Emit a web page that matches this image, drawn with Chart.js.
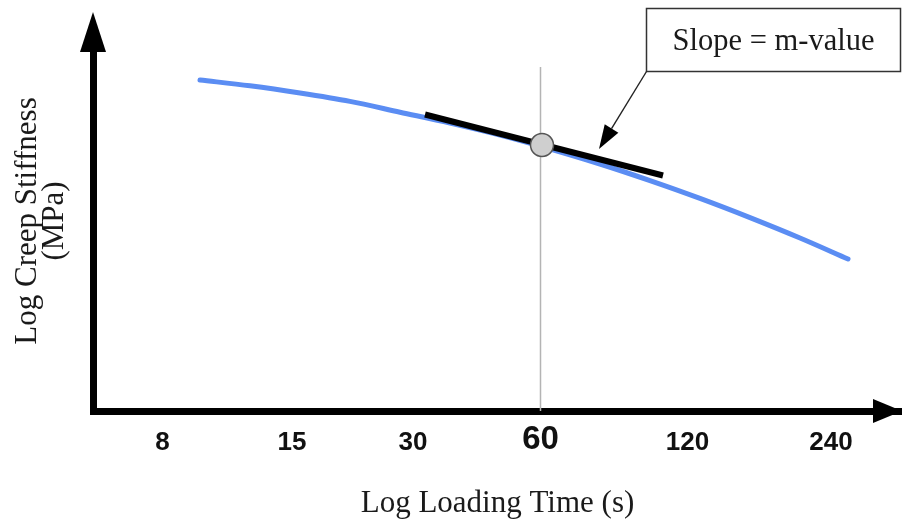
<!DOCTYPE html>
<html>
<head>
<meta charset="utf-8">
<script src="https://cdn.jsdelivr.net/npm/chart.js@4/dist/chart.umd.min.js"></script>
<style>
  html, body { margin: 0; padding: 0; background: #fff; }
  canvas { display: block; }
</style>
</head>
<body>
<canvas id="chart" width="902" height="524"></canvas>
<script>
// Loading-time axis: tick labels (s) and their places along the log-time axis
const timeLabels = ['8', '15', '30', '60', '120', '240'];
const timePositions = [0.695, 1.99, 3.20, 4.475, 5.945, 7.38];
const emphasisLabel = '60';

// Creep stiffness master curve (log-time position, log stiffness)
const curveX = [1.07, 1.57, 2.07, 2.57, 3.07, 3.57, 4.07, 4.47, 5.07, 5.57, 6.07, 6.57, 7.07, 7.55];
const curveY = [8.275, 8.13, 7.95, 7.74, 7.47, 7.20, 6.90, 6.625, 6.175, 5.76, 5.315, 4.835, 4.325, 3.80];

// Tangent to the curve at 60 s and the evaluation point
const tangentX = [3.32, 5.70];
const tangentY = [7.4125, 5.8875];
const pointX = [4.49];
const pointY = [6.65];

// Vertical guide at 60 s
const guideX = [4.475, 4.475];
const guideY = [0, 8.6];

const toXY = (xs, ys) => xs.map((x, i) => ({ x, y: ys[i] }));

const SERIF = "'Liberation Serif', 'Times New Roman', serif";
const SANS = "'Liberation Sans', Arial, sans-serif";

// Callout: box with the label, and an arrow pointing at the tangent line
const callout = {
  text: 'Slope = m-value',
  box: { left: 5.535, right: 8.075, top: 10.0625, bottom: 8.4875 },
  tip: { x: 5.06, y: 6.55 }
};

const axisArrows = {
  id: 'axisArrows',
  afterDraw(chart) {
    const { ctx, chartArea: a } = chart;
    ctx.save();
    ctx.fillStyle = '#000';
    // arrowhead on the vertical axis
    ctx.beginPath();
    ctx.moveTo(a.left, a.top - 19);
    ctx.lineTo(a.left - 13, a.top + 21);
    ctx.lineTo(a.left + 13, a.top + 21);
    ctx.closePath();
    ctx.fill();
    // arrowhead on the horizontal axis
    ctx.beginPath();
    ctx.moveTo(a.right, a.bottom);
    ctx.lineTo(a.right - 29, a.bottom - 12);
    ctx.lineTo(a.right - 29, a.bottom + 12);
    ctx.closePath();
    ctx.fill();
    ctx.restore();
  }
};

const calloutPlugin = {
  id: 'callout',
  afterDraw(chart) {
    const { ctx } = chart;
    const xs = chart.scales.x, ys = chart.scales.y;
    const l = xs.getPixelForValue(callout.box.left);
    const r = xs.getPixelForValue(callout.box.right);
    const t = ys.getPixelForValue(callout.box.top);
    const b = ys.getPixelForValue(callout.box.bottom);
    const tx = xs.getPixelForValue(callout.tip.x);
    const ty = ys.getPixelForValue(callout.tip.y);
    ctx.save();
    ctx.fillStyle = '#fff';
    ctx.fillRect(l, t, r - l, b - t);
    ctx.strokeStyle = '#333';
    ctx.lineWidth = 1.5;
    ctx.strokeRect(l, t, r - l, b - t);
    ctx.fillStyle = '#1a1a1a';
    ctx.font = '30.5px ' + SERIF;
    ctx.textAlign = 'center';
    ctx.textBaseline = 'alphabetic';
    ctx.fillText(callout.text, (l + r) / 2, t + 41.5);

    // arrow from the box corner to the tangent
    const sx = l, sy = b;
    const ang = Math.atan2(ty - sy, tx - sx);
    const headLen = 24, headHalf = 8;
    const bx = tx - headLen * Math.cos(ang), by = ty - headLen * Math.sin(ang);
    ctx.strokeStyle = '#222';
    ctx.lineWidth = 1.4;
    ctx.beginPath();
    ctx.moveTo(sx, sy);
    ctx.lineTo(bx, by);
    ctx.stroke();
    ctx.fillStyle = '#000';
    ctx.beginPath();
    ctx.moveTo(tx, ty);
    ctx.lineTo(bx + headHalf * Math.sin(ang), by - headHalf * Math.cos(ang));
    ctx.lineTo(bx - headHalf * Math.sin(ang), by + headHalf * Math.cos(ang));
    ctx.closePath();
    ctx.fill();
    ctx.restore();
  }
};

new Chart(document.getElementById('chart'), {
  type: 'line',
  data: {
    datasets: [
      {
        label: 'Evaluation point',
        data: toXY(pointX, pointY),
        showLine: false,
        pointRadius: 11.5,
        pointBackgroundColor: '#cfcfcf',
        pointBorderColor: '#555',
        pointBorderWidth: 1.5
      },
      {
        label: 'Tangent',
        data: toXY(tangentX, tangentY),
        borderColor: '#000',
        borderWidth: 6,
        borderCapStyle: 'butt',
        pointRadius: 0
      },
      {
        label: 'Creep stiffness',
        data: toXY(curveX, curveY),
        borderColor: '#5b8df3',
        borderWidth: 5,
        borderCapStyle: 'round',
        cubicInterpolationMode: 'monotone',
        pointRadius: 0
      },
      {
        label: '60 s',
        data: toXY(guideX, guideY),
        borderColor: '#b4b4b4',
        borderWidth: 1.5,
        pointRadius: 0
      }
    ]
  },
  options: {
    responsive: false,
    animation: false,
    devicePixelRatio: 1,
    layout: { autoPadding: false, padding: { top: 31, left: 0, right: 0, bottom: 0 } },
    plugins: {
      legend: { display: false },
      tooltip: { enabled: false }
    },
    elements: { line: { fill: false } },
    scales: {
      x: {
        type: 'linear',
        min: 0,
        max: 8.09,
        grid: { display: false, drawTicks: true, tickLength: 16 },
        border: { display: true, color: '#000', width: 7 },
        afterBuildTicks: (scale) => {
          scale.ticks = timePositions.map(v => ({ value: v }));
        },
        ticks: {
          autoSkip: false,
          maxRotation: 0,
          padding: 0,
          color: '#111',
          callback: (value, index) => timeLabels[index],
          font: (ctx) => (timeLabels[ctx.index] === emphasisLabel)
            ? { family: SANS, size: 33, weight: 'bold', lineHeight: 0.8 }
            : { family: SANS, size: 26, weight: 'bold', lineHeight: 1.2 }
        },
        title: {
          display: true,
          text: 'Log Loading Time (s)',
          color: '#1a1a1a',
          font: { family: SERIF, size: 31, lineHeight: 1.2 },
          padding: { top: 26.7, bottom: 1.9 }
        }
      },
      y: {
        type: 'linear',
        min: 0,
        max: 9.5,
        grid: { display: false, drawTicks: false, tickLength: 0 },
        border: { display: true, color: '#000', width: 7 },
        ticks: { display: false },
        title: {
          display: true,
          text: ['Log Creep Stiffness', '(MPa)'],
          color: '#1a1a1a',
          font: { family: SERIF, size: 31, lineHeight: 0.871 },
          padding: { top: 14, bottom: 25 }
        }
      }
    }
  },
  plugins: [axisArrows, calloutPlugin]
});
</script>
</body>
</html>
